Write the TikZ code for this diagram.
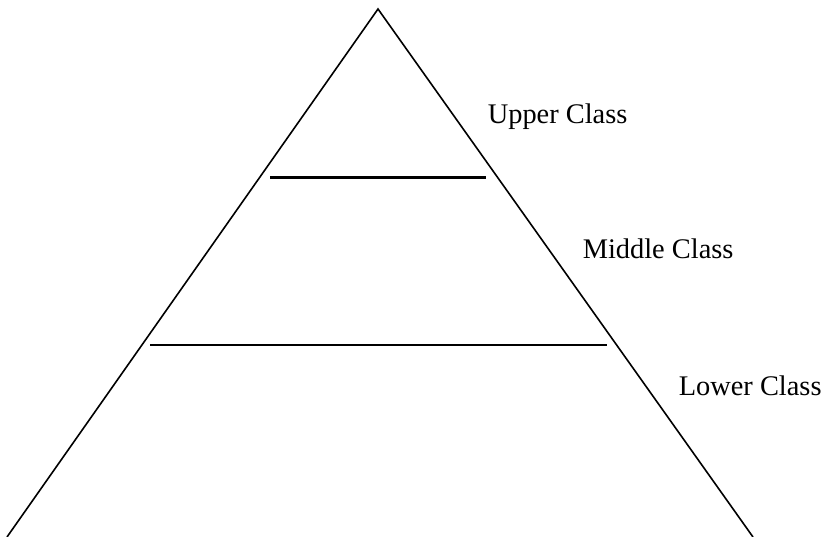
\documentclass[tikz,border=0pt]{standalone}
\usepackage{fontspec}
\setmainfont{Liberation Serif}
\begin{document}
\begin{tikzpicture}[x=0.5pt,y=-0.5pt,line width=0.8pt]
\tikzset{
  leg/.style={line width=0.8pt},
  tier/.style={line width=1.1pt},
  lbl/.style={anchor=base west,inner sep=0pt,font=\fontsize{14.2}{17}\selectfont}}
\useasboundingbox (0,0) rectangle (827,537);
% ---------- pyramid ----------
\coordinate (apex) at (378,9);
\coordinate (bl) at (7,537);
\coordinate (br) at (753,537);
\draw[leg] (bl) -- (apex) -- (br);
% ---------- dividing lines ----------
\coordinate (t1l) at (270,177.5);
\coordinate (t1r) at (486,177.5);
\coordinate (t2l) at (150,345);
\coordinate (t2r) at (607,345);
\draw[tier] (t1l) -- (t1r);
\draw[tier] (t2l) -- (t2r);
% ---------- labels ----------
\node[lbl] (upper) at (487,123) {Upper Class};
\node[lbl] (middle) at (582,258) {Middle Class};
\node[lbl] (lower) at (678,395) {Lower Class};
\end{tikzpicture}
\end{document}
